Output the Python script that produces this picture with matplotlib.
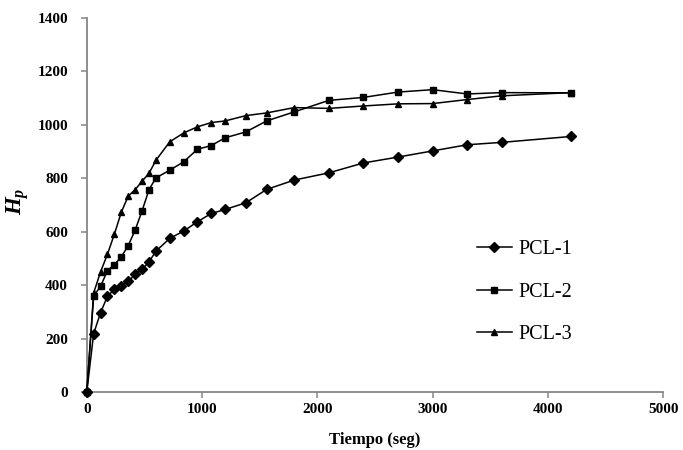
import matplotlib
matplotlib.use("Agg")
import matplotlib.pyplot as plt

plt.rcParams['font.family'] = ['Liberation Serif', 'DejaVu Serif']
plt.rcParams['mathtext.fontset'] = 'custom'
plt.rcParams['mathtext.it'] = 'Liberation Serif:bold:italic'
plt.rcParams['mathtext.rm'] = 'Liberation Serif:bold'

# tiempo (seg)
t1 = [0, 60, 120, 180, 240, 300, 360, 420, 480, 540, 600, 720, 840, 960, 1080,
      1200, 1380, 1560, 1800, 2100, 2400, 2700, 3000, 3300, 3600, 4200]
t2 = t1
t3 = t1

pcl1 = [0, 220, 298, 360, 385, 397, 415, 441, 460, 488, 528, 576, 603, 638, 669,
        684, 709, 759, 794, 821, 858, 880, 903, 926, 935, 957]
pcl2 = [0, 360, 397, 455, 478, 507, 549, 607, 679, 758, 802, 831, 862, 909, 923,
        952, 974, 1015, 1049, 1092, 1103, 1123, 1132, 1116, 1121, 1120]
pcl3 = [0, 372, 451, 517, 592, 674, 734, 758, 790, 819, 868, 937, 970, 993, 1009,
        1015, 1035, 1045, 1065, 1062, 1071, 1079, 1080, 1095, 1109, 1121]

fig = plt.figure(figsize=(6.83, 4.5), dpi=100)
ax = fig.add_axes([0.127, 0.128, 0.844, 0.832])

ax.plot(t1, pcl1, color='black', marker='D', markersize=5.3, linewidth=1.1,
        label='PCL-1', clip_on=False, zorder=3)
ax.plot(t2, pcl2, color='black', marker='s', markersize=5, linewidth=1.1,
        label='PCL-2', clip_on=False, zorder=3)
ax.plot(t3, pcl3, color='black', marker='^', markersize=4.3, linewidth=1.1,
        label='PCL-3', clip_on=False, zorder=3)

ax.set_xlim(0, 5000)
ax.set_ylim(0, 1400)
ax.set_xticks(range(0, 5001, 1000))
ax.set_yticks(range(0, 1401, 200))

for s in ['top', 'right']:
    ax.spines[s].set_visible(False)
for s in ['left', 'bottom']:
    ax.spines[s].set_color('#868686')
    ax.spines[s].set_linewidth(1.3)

ax.tick_params(axis='both', direction='out', length=4.5, width=1.1,
               color='#868686', labelsize=11)
ax.tick_params(axis='x', pad=3)
ax.tick_params(axis='y', pad=9)
for lab in ax.get_xticklabels() + ax.get_yticklabels():
    lab.set_fontweight('bold')

ax.set_xlabel('Tiempo (seg)', fontsize=12, fontweight='bold', labelpad=12)
ax.set_ylabel('$H_p$', fontsize=16.5)
ax.yaxis.set_label_coords(-0.096, 0.51)

ax.legend(loc='upper left', bbox_to_anchor=(0.698, 0.466),
          bbox_transform=fig.transFigure, frameon=False, fontsize=14.5,
          handlelength=1.75, handletextpad=0.3, labelspacing=1.16,
          borderpad=0, borderaxespad=0)

fig.savefig('out.png', dpi=100)
